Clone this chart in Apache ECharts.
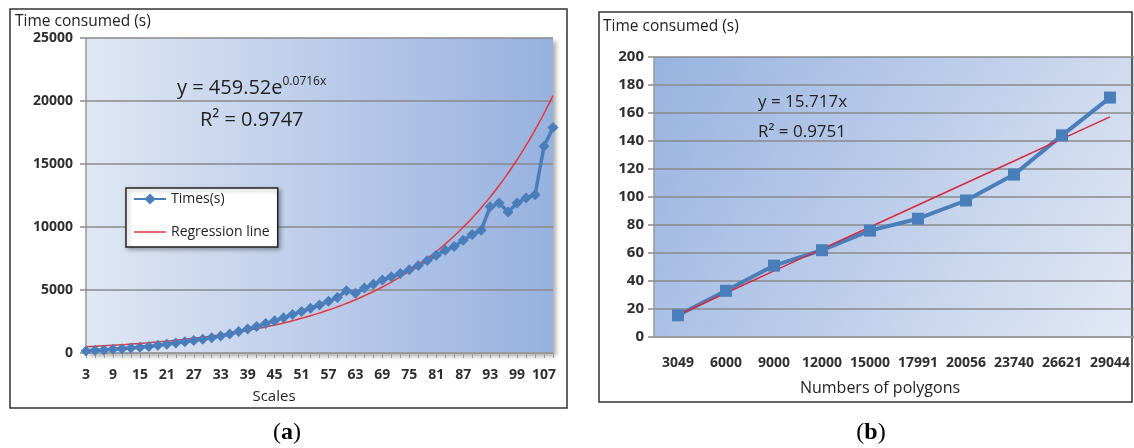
<!DOCTYPE html>
<html>
<head>
<meta charset="utf-8">
<script src="https://cdn.jsdelivr.net/npm/echarts@6/dist/echarts.min.js"></script>
<style>
  html, body { margin: 0; padding: 0; background: #fff; }
  #main { width: 1134px; height: 448px; }
</style>
</head>
<body>
<div id="main"></div>
<script>
// (a) scales vs time, with the exponential trend y = 459.52e^(0.0716x)
const scales = [3, 5, 7, 9, 11, 13, 15, 17, 19, 21, 23, 25, 27, 29, 31, 33, 35, 37, 39, 41,
  43, 45, 47, 49, 51, 53, 55, 57, 59, 61, 63, 65, 67, 69, 71, 73, 75, 77, 79, 81,
  83, 85, 87, 89, 91, 93, 95, 97, 99, 101, 104, 107, 109];
const timesA = [150, 210, 240, 300, 340, 390, 450, 520, 610, 700,
  790, 890, 990, 1100, 1220, 1350, 1500, 1700, 1900, 2100,
  2350, 2550, 2800, 3050, 3300, 3550, 3800, 4100, 4400, 4950,
  4750, 5150, 5450, 5800, 6050, 6300, 6600, 6950, 7350, 7750,
  8150, 8450, 8950, 9400, 9750, 11600, 11900, 11200, 11900, 12300,
  12550, 16400, 17900];
const trendA = [494, 530, 570, 612, 657, 706, 759, 815, 875, 940,
  1010, 1085, 1166, 1252, 1345, 1445, 1552, 1667, 1791, 1924,
  2066, 2220, 2384, 2561, 2751, 2955, 3175, 3410, 3663, 3935,
  4227, 4541, 4878, 5240, 5629, 6047, 6496, 6978, 7496, 8052,
  8649, 9291, 9981, 10722, 11517, 12372, 13290, 14277, 15336, 16474,
  17697, 19010, 20421];

// (b) polygons vs time, linear trend y = 15.717x
const polygons = ['3049', '6000', '9000', '12000', '15000', '17991', '20056', '23740', '26621', '29044'];
const timesB = [15.5, 33, 51, 62, 76, 84.5, 97.5, 116, 144, 171];
const trendB = [15.7, 31.4, 47.2, 62.9, 78.6, 94.3, 110.0, 125.7, 141.5, 157.2];

const font = '"Open Sans", sans-serif';
const blue = '#4a7ebb';
const red = '#e5363c';
const labelTxt = { color: '#2f2f2f', fontFamily: font, fontSize: 14, fontWeight: 'bold' };
const gridLine = { lineStyle: { color: '#8a8a8a', width: 1.5 } };
const axisGray = { lineStyle: { color: '#9a9a9a', width: 1.5 } };
const plain = v => String(v);

const chart = echarts.init(document.getElementById('main'));

function txt(text, x, y, size, extra) {
  return {
    type: 'text', silent: true, z: 100,
    style: Object.assign({
      text: text, x: x, y: y, fill: '#222',
      font: size + 'px ' + font,
      textVerticalAlign: 'middle'
    }, extra || {})
  };
}

function caption(letter, x) {
  return {
    type: 'text', silent: true,
    style: {
      x: x, y: 433, textAlign: 'center', textVerticalAlign: 'middle',
      text: '{n|(}{b|' + letter + '}{n|)}',
      rich: {
        n: { fontFamily: '"Liberation Serif", serif', fontSize: 24, fill: '#000' },
        b: { fontFamily: '"Liberation Serif", serif', fontSize: 24, fontWeight: 'bold', fill: '#000' }
      }
    }
  };
}

chart.setOption({
  animation: false,
  graphic: [
    { type: 'rect', silent: true, shape: { x: 10, y: 9, width: 557, height: 399 },
      style: { fill: 'none', stroke: '#333', lineWidth: 1.5 } },
    { type: 'rect', silent: true, shape: { x: 599, y: 12, width: 533, height: 390 },
      style: { fill: 'none', stroke: '#333', lineWidth: 1.5 } },
    txt('Time consumed (s)', 15, 22, 15.5),
    txt('Time consumed (s)', 603, 27, 15.5),
    txt('Scales', 274, 397, 15, { textAlign: 'center' }),
    txt('Numbers of polygons', 880, 388, 16, { textAlign: 'center' }),
    {
      type: 'text', silent: true, z: 100,
      style: {
        x: 177, y: 88, textVerticalAlign: 'middle',
        text: '{a|y = 459.52e}{s|0.0716x}',
        rich: {
          a: { fontFamily: font, fontSize: 20, lineHeight: 24, fill: '#222' },
          s: { fontFamily: font, fontSize: 12, lineHeight: 14, verticalAlign: 'top', fill: '#222' }
        }
      }
    },
    txt('R² = 0.9747', 200, 120, 20),
    txt('y = 15.717x', 758, 102, 17),
    txt('R² = 0.9751', 758, 132, 17),
    caption('a', 287),
    caption('b', 871)
  ],
  legend: {
    data: [
      { name: 'Times(s)' },
      { name: 'Regression line', icon: 'path://M0,6.5 L32,6.5 L32,8 L0,8 Z' }
    ],
    orient: 'vertical',
    left: 126, top: 188,
    padding: [4, 8, 8, 7],
    itemGap: 19,
    itemWidth: 32, itemHeight: 14,
    backgroundColor: '#fff',
    borderColor: '#222', borderWidth: 1.5,
    shadowColor: 'rgba(0,0,0,0.3)', shadowBlur: 4, shadowOffsetX: 2, shadowOffsetY: 2,
    textStyle: { fontFamily: font, fontSize: 14, color: '#222' }
  },
  grid: [
    {
      left: 86, top: 38, width: 467, height: 315, show: true, borderWidth: 0,
      backgroundColor: new echarts.graphic.LinearGradient(0, 0, 1, 0, [
        { offset: 0, color: '#e0e7f4' }, { offset: 1, color: '#97b1df' }
      ]),
      shadowColor: 'rgba(0,0,0,0.35)', shadowBlur: 5, shadowOffsetX: 3, shadowOffsetY: 3
    },
    {
      left: 654, top: 57, width: 480, height: 280, show: true, borderWidth: 0,
      backgroundColor: new echarts.graphic.LinearGradient(0, 0, 1, 1, [
        { offset: 0, color: '#98b3df' }, { offset: 1, color: '#e3e9f5' }
      ])
    }
  ],
  xAxis: [
    {
      gridIndex: 0, type: 'category', data: scales, boundaryGap: false,
      axisLine: axisGray,
      axisTick: { interval: 0, length: 5, lineStyle: { color: '#9a9a9a' } },
      axisLabel: Object.assign({ interval: 2, margin: 15 }, labelTxt)
    },
    {
      gridIndex: 1, type: 'category', data: polygons, boundaryGap: true,
      axisLine: axisGray,
      axisTick: { length: 6, lineStyle: { color: '#9a9a9a' } },
      axisLabel: Object.assign({ interval: 0, margin: 19 }, labelTxt)
    }
  ],
  yAxis: [
    {
      gridIndex: 0, type: 'value', min: 0, max: 25000, interval: 5000,
      axisLine: Object.assign({ show: true }, axisGray),
      axisTick: { show: true, length: 6, lineStyle: { color: '#8a8a8a', width: 1.5 } },
      splitLine: gridLine,
      axisLabel: Object.assign({ margin: 13, formatter: plain }, labelTxt)
    },
    {
      gridIndex: 1, type: 'value', min: 0, max: 200, interval: 20,
      axisLine: Object.assign({ show: true }, axisGray),
      axisTick: { show: true, length: 6, lineStyle: { color: '#8a8a8a', width: 1.5 } },
      splitLine: gridLine,
      axisLabel: Object.assign({ margin: 10, formatter: plain }, labelTxt, { fontSize: 15 })
    }
  ],
  series: [
    {
      name: 'Times(s)', type: 'line', xAxisIndex: 0, yAxisIndex: 0, data: timesA,
      symbol: 'diamond', symbolSize: 11, showAllSymbol: true,
      lineStyle: { color: blue, width: 3.5 }, itemStyle: { color: blue }
    },
    {
      name: 'Regression line', type: 'line', xAxisIndex: 0, yAxisIndex: 0, data: trendA,
      smooth: true, symbol: 'none',
      lineStyle: { color: red, width: 1.5 }, itemStyle: { color: red }
    },
    {
      name: 'Times (b)', type: 'line', xAxisIndex: 1, yAxisIndex: 1, data: timesB,
      symbol: 'rect', symbolSize: 12, showAllSymbol: true,
      lineStyle: { color: blue, width: 4 }, itemStyle: { color: blue }
    },
    {
      name: 'Trend (b)', type: 'line', xAxisIndex: 1, yAxisIndex: 1, data: trendB,
      symbol: 'none',
      lineStyle: { color: '#d8283f', width: 1.5 }, itemStyle: { color: '#d8283f' }
    }
  ]
});

window.addEventListener('resize', () => chart.resize());
</script>
</body>
</html>
